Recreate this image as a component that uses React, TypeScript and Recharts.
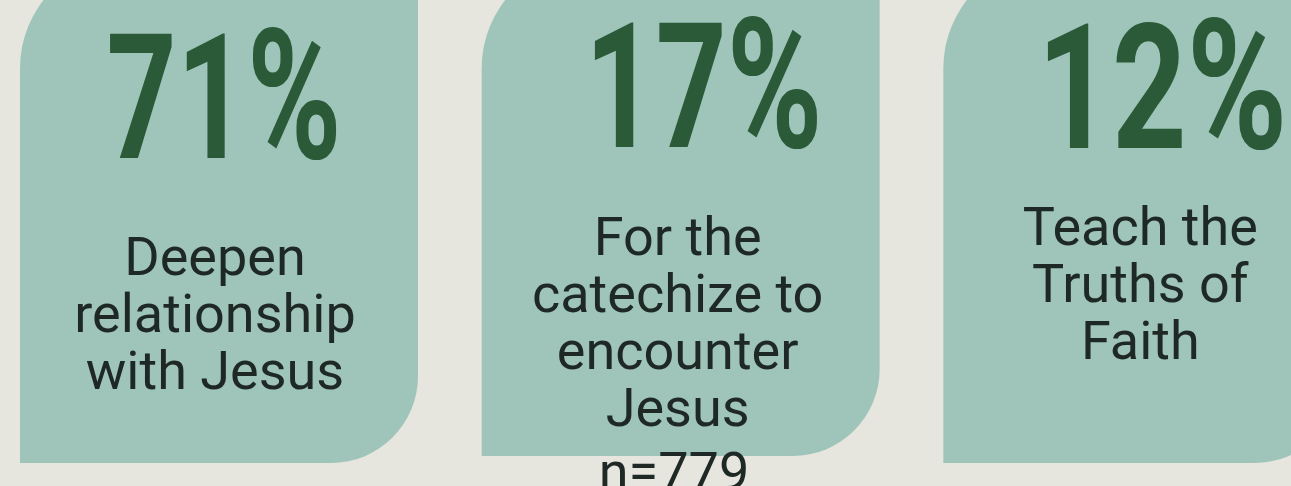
import React from "react";
import { BarChart, Bar, XAxis, YAxis, LabelList, Customized } from "recharts";

// survey answers, one card each
const categories = [
  "Deepen\nrelationship\nwith Jesus",
  "For the\ncatechize to\nencounter\nJesus",
  "Teach the\nTruths of\nFaith",
];
const shares = [71, 17, 12];
const sampleNote = "n=779";

const data = categories.map((category, i) => ({ category, share: shares[i] }));

// chart is shifted so the cards' top corners run off the page like the source
const SHIFT_X = 12;
const SHIFT_Y = 42;
const CHART_W = 1385;
const PLOT_H = 505;
const CHART_H = PLOT_H + 40;

const BG = "#e6e5de";
const CARD = "#9fc5ba";
const PCT_COLOR = "#2b5a38";
const TEXT_COLOR = "#1e2824";

// per card tweaks (page coordinates)
const PCT_BASELINE = [158, 147, 148];
const PCT_DX = [5, 23, 20];
const PCT_WIDTH = [235, 238, 250];
const LABEL_BASELINE = [275, 255, 245];
const LABEL_DX = [-4, -3, -2];
const LINE_GAP = 57;
const CARD_LIFT = [0, 7, 0];

const CardShape = (props: any) => {
  const { x, y, width, height, index } = props;
  const h = height - (CARD_LIFT[index] || 0);
  const rTL = 110;
  const rBR = 87;
  const d = `M${x},${y + rTL} A${rTL},${rTL} 0 0 1 ${x + rTL},${y} L${x + width},${y} L${x + width},${y + h - rBR} A${rBR},${rBR} 0 0 1 ${x + width - rBR},${y + h} L${x},${y + h} Z`;
  return <path d={d} fill={CARD} />;
};

const PctLabel = (props: any) => {
  const { x, width, value, index } = props;
  const i = index ?? shares.indexOf(Number(value));
  return (
    <text
      x={x + width / 2 + PCT_DX[i]}
      y={PCT_BASELINE[i] + SHIFT_Y}
      textAnchor="middle"
      fill={PCT_COLOR}
      fontFamily="Roboto"
      fontWeight={700}
      fontSize={174}
      textLength={PCT_WIDTH[i]}
      lengthAdjust="spacingAndGlyphs"
    >
      {value}
      <tspan fontSize={182}>%</tspan>
    </text>
  );
};

const CategoryLabel = (props: any) => {
  const { x, width, value, index } = props;
  const i = index ?? categories.indexOf(String(value));
  const lines = String(value).split("\n");
  return (
    <g>
      {lines.map((line, k) => (
        <text
          key={k}
          x={x + width / 2 + LABEL_DX[i]}
          y={LABEL_BASELINE[i] + SHIFT_Y + k * LINE_GAP}
          textAnchor="middle"
          fill={TEXT_COLOR}
          fontFamily="Roboto"
          fontSize={54}
        >
          {line}
        </text>
      ))}
    </g>
  );
};

const SampleNote = () => (
  <text
    x={674 + SHIFT_X}
    y={490 + SHIFT_Y}
    textAnchor="middle"
    fill={TEXT_COLOR}
    fontFamily="Roboto"
    fontSize={54}
  >
    {sampleNote}
  </text>
);

export default function App() {
  return (
    <div
      style={{
        position: "absolute",
        left: 0,
        top: 0,
        width: 1291,
        height: 486,
        overflow: "hidden",
        background: BG,
      }}
    >
      <div style={{ position: "absolute", left: -SHIFT_X, top: -SHIFT_Y }}>
        <BarChart
          width={CHART_W}
          height={CHART_H}
          data={data}
          margin={{ top: 0, right: 0, bottom: CHART_H - PLOT_H, left: 0 }}
        >
          <XAxis dataKey="category" hide />
          <YAxis hide domain={[0, 100]} />
          <Bar
            dataKey="share"
            barSize={398}
            isAnimationActive={false}
            background={(p: any) => <CardShape key={p.index} {...p} />}
            shape={() => <g />}
          >
            <LabelList dataKey="share" content={<PctLabel />} />
            <LabelList dataKey="category" content={<CategoryLabel />} />
          </Bar>
          <Customized component={<SampleNote />} />
        </BarChart>
      </div>
    </div>
  );
}
